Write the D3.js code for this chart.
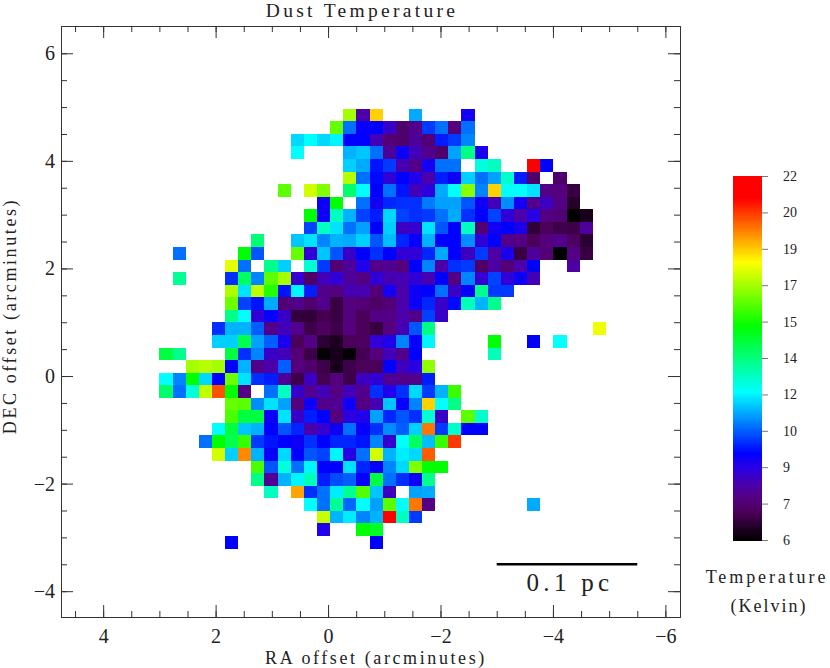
<!DOCTYPE html>
<html>
<head>
<meta charset="utf-8">
<script src="https://cdnjs.cloudflare.com/ajax/libs/d3/7.8.5/d3.min.js"></script>
<style>
  body { margin: 0; background: #fff; }
  text { font-family: "Liberation Serif", serif; fill: #222; }
</style>
</head>
<body>
<svg id="chart" width="830" height="668"></svg>
<script>
const _ = null;

// map layout: first RA column of each row, top row first
const firstCol = [14, 13, 10, 10, 14, 14, 9, 12, 11, 11, 7, 1, 5, 1, 5, 5, 5, 4,
                  4, 0, 2, 0, 0, 5, 5, 4, 3, 4, 7, 7, 8, 11, 12, 12, 5];

// dust temperature in Kelvin, one row at a time
const tempRows = [
  [17.2, 8.4, 18.7, _, _, 11.6, _, _, _, 9.5],
  [16.5, 11, 9.7, 9.8, 8.8, 7.5, 8, 10.4, 11, 7.8, 11],
  [12.1, 12.5, 12.1, 12.4, 9.8, 9.8, 8.6, 7.7, 7.5, 8.2, 7.7, 10.1, 10.4, 11.2],
  [12.5, _, _, _, 11.7, 11.9, 11, 8.2, 9.6, 8.6, 8, 7.5, 11.5, 13.9, 9.4],
  [12, 11.6, 10, 10.4, 8.5, 8, 9.5, 11, 11, _, 12.9, 13.2, _, _, 21, 9.8],
  [17.4, 11, 9.9, 9, 9.8, 9.3, 8.4, 10.1, 9.6, 12, 11, 11.5, 13.1, 10.1, 7.5, _, 7.5],
  [16.4, _, 17.7, 16.8, _, 14.2, 12.5, 9.8, 11, 10, 8.6, 9.1, 11.6, 12.5, 16.9, 11.2, 18.7, 12.5, 12.5, 12.2, 7.9, 7.8, 6.9],
  [9.6, 15.4, _, 11, 9.5, 10.2, 10.3, 10.3, 11.1, 11.5, 11.5, 10.7, 9.6, 8.6, 11.3, 9.5, 8, 8.7, 7.9, 6.6],
  [15.4, 9.6, 13.2, 11.7, 10.5, 10.1, 12.1, 10.5, 10.3, 10.4, 11, 11.6, 10.3, 9.8, 10.5, 9, 8.4, 9.2, 7.9, 7.7, 6, 6.4],
  [10.5, 13.2, 12.2, 11, 11.5, 9.8, 12, 8.7, 8.9, 12.2, 10.7, 9.8, 13.2, 7.7, 9.5, 9.8, 9.4, 6.8, 7.2, 7, 7, 8.2],
  [14.1, _, _, 11.9, 12.2, 11.2, 11.7, 11.6, 12, 10.7, 11.8, 10.2, 9.7, 11.7, 9.8, 9.8, 11.3, 9, 9.8, 8, 7.9, 7.2, 7.8, 8, 7.3, 6.7],
  [11, _, _, _, _, 15.4, 10.7, _, _, 16.5, 9, 11.9, 10.7, 8.8, 9.8, 10.3, 9.8, 9, 9, 10.2, 11.6, 9.8, 8.7, 10.4, 8.3, 9.4, 6.9, 8.2, 7.7, 6, 7.9, 6.9],
  [17.9, 11, _, 13.8, 12, _, 13, 10.4, 7.7, 8.2, 9.3, 8, 8.1, 7.8, 9.8, 11.2, 8.4, 10.3, 10.4, 7.4, 8.3, 7.7, 8.4, 9.8, _, _, 8.3],
  [13.7, _, _, _, 10.3, 14.3, 11.2, 16.4, 17.2, 8.9, 7.4, 8.6, 9, 8.2, 7.9, 9, 8.5, 8.5, 9, 8.5, 9.8, 7.9, 11.2, 8.9, 10.5, 9, 9.6, 8.6],
  [17.3, 12.2, 17.5, 15.8, 10, 12.4, 10.1, 8, 7.8, 8.5, 8.5, 7.7, 9.5, 8.4, 9.6, 9.8, 11, 8.8, 9.7, 13.8, 10.4, 10.4],
  [16.6, 10.5, 10, 11.6, 7.7, 8, 7.5, 8, 6.9, 7.8, 7.7, 7.4, 7.7, 8.4, 9.6, 10.2, 8.8, 9.9, 13.3, 11.7, 13.8],
  [13.9, 12.5, 9, 9.7, 8.8, 6.8, 6.8, 7.1, 6.9, 7.8, 7.2, 7.9, 7.9, 8.4, 8, 10.5, 8.8],
  [10.3, 11.7, 11.7, 10.8, 8, 8.6, 8, 7, 7.3, 7, 7.8, 7.2, 6.9, 7.8, 8.5, 10.7, 13.9, _, _, _, _, _, _, _, _, _, _, _, _, 18],
  [12, 12, 14.5, 11.5, 10.8, 9.4, 7.2, 7.9, 6.7, 6.5, 7.2, 7.3, 9, 9.3, 11.2, 9.7, 12.4, _, _, _, _, 15.4, _, _, 9.8, _, 12.5],
  [14.7, 13.8, _, _, _, 14.7, 10.3, 11.2, 8.8, 8.6, 7.7, 7, 6.1, 6.4, 6.1, 7.1, 7.8, 8.6, 8, 9.8, _, _, _, _, _, 13.3],
  [17.2, 17.4, 17.2, 9.8, 11.7, 8, 8.4, 10.8, 7.8, 7.5, 7, 6.4, 7, 7.2, 7.2, 9.8, 8.7, 9.2, 17],
  [12.5, 11.2, 15.4, 12.1, 9.8, 16.6, 12.2, 10.3, 10.1, 8.2, 7, 8.7, 7.1, 7.8, 7, 8.7, 9, 8.1, 8, 8, 10.1],
  [14.2, 11, 12.9, 17.5, 20.1, 15.4, 7.9, _, 11, 13.2, 8.8, 8.1, 8.6, 7.9, 8.6, 8, 10.3, 9.3, 10.3, 12.1, 10.4, 11.7, 16],
  [16.5, 16.4, 11.3, 12.2, 11.5, 7.8, 9.6, 8, 8.1, 9.6, 7.9, 8.5, 11.9, 9.7, 11.2, 18.7, 12.5, 13.9],
  [16.2, 14.7, 14.7, 9.6, 12.2, 8.8, 10.1, 9.8, 7.8, 9.1, 9.3, 11.5, 10.2, 10.7, 10.3, 13, 8.8, _, 16.4, 13.1],
  [12.5, 14.7, 11.9, 11.7, 9.8, 10.7, 10.2, 8.4, 8.9, 9.6, 11, 9.7, 10.3, 11.3, 10.8, 12, 19.7, 10.4, 13.1, 9.8, 9.8],
  [11, 15.4, 14.5, 16, 10.4, 10, 9.8, 9.6, 10.3, 9.8, 10.2, 10.2, 10, 11.2, 8.9, 12.5, 14.3, 11.8, 16, 20.4],
  [17.7, 12, 19.5, 11.7, 9.7, 12.1, 9.8, 10.7, 10.5, 12.4, 9.2, 11, 17.7, 11.7, 12.3, 12.1, 20],
  [16.2, 10.7, 12.9, 11, 12.4, 9.8, 9.8, 12.2, 10.2, 9.8, 11.2, 12.1, 16.8, 15.4, 15.4],
  [13.9, 8.1, 11.7, 12.4, 13.3, 10.1, 10.6, 10.8, 9.7, 14.7, 11, 10.3, 9.6, 13.8],
  [13.2, _, 19.2, 10.3, 11, 12.3, 13.7, 16.3, 11.9, 8.7, _, 11.5, 11.6],
  [12.5, 11, 13.7, 10.9, 12.5, 11.5, 16.4, 12.5, 19.7, 7.9, _, _, _, _, _, _, _, 11.6],
  [17.6, 11.7, 12.3, 11.2, 11.7, 21, 13.2, 10.4],
  [9.3, _, _, 15.4, 15],
  [9.8, _, _, _, _, _, _, _, _, _, _, 9.8]
];

// grid of the map, in arcminutes
const raStart = 3.0;
const decStart = 4.968;
const cellSize = 0.2336;

const xMajor = [4, 2, 0, -2, -4, -6];
const yMajor = [6, 4, 2, 0, -2, -4];
const xMinor = d3.range(4.5, -6.01, -0.5);
const yMinor = d3.range(6, -4.01, -0.5);

// colour bar
const tempStops = [6, 6.5, 7.2, 7.8, 8.4, 9.2, 9.8, 12.5, 15.4, 18.2, 21, 22];
const stopColors = ["#000000", "#1e0023", "#4b005a", "#55007d", "#4b00aa", "#2800e6", "#0000ff",
                    "#00ffff", "#00ff00", "#ffff00", "#ff0000", "#ff0000"];
const barTicks = [6, 7.6, 9.2, 10.8, 12.4, 14, 15.6, 17.2, 18.8, 20.4, 22];
const barLabels = ["6", "7", "9", "10", "12", "14", "15", "17", "19", "20", "22"];

let svg = d3.select("#chart");

let x = d3.scaleLinear().domain([4.75, -6.26]).range([61, 680]);
let y = d3.scaleLinear().domain([6.507, -4.48]).range([26, 617]);
let color = d3.scaleLinear().domain(tempStops).range(stopColors).clamp(true);

// flatten the rows into cells
let cells = [];
tempRows.forEach((row, r) => {
  row.forEach((t, i) => {
    if (t !== null) cells.push({col: firstCol[r] + i, row: r, temp: t});
  });
});

svg.append("g")
  .attr("shape-rendering", "crispEdges")
  .selectAll("rect")
  .data(cells).enter()
  .append("rect")
  .attr("x", d => x(raStart - d.col * cellSize))
  .attr("y", d => y(decStart - d.row * cellSize))
  .attr("width", x(0) - x(cellSize))
  .attr("height", y(0) - y(cellSize))
  .attr("fill", d => color(d.temp));

function style_axis(g) {
  g.selectAll("path, line").attr("stroke", "#333").attr("stroke-width", 1);
  g.selectAll("text")
    .attr("fill", "#222")
    .style("font-family", '"Liberation Serif", serif')
    .style("font-size", "20px");
}

function add_axis(axis, tx, ty, showLabels) {
  let g = svg.append("g")
    .attr("transform", `translate(${tx},${ty})`)
    .call(axis.tickSizeOuter(0))
    .call(style_axis);
  if (!showLabels) g.selectAll("text").remove();
  return g;
}

// major and minor ticks point inwards on all four sides
add_axis(d3.axisBottom(x).tickValues(xMajor).tickSize(-12).tickPadding(12), 0, 617, true);
add_axis(d3.axisTop(x).tickValues(xMajor).tickSize(-12), 0, 26, false);
add_axis(d3.axisLeft(y).tickValues(yMajor).tickSize(-12).tickPadding(6), 61, 0, true);
add_axis(d3.axisRight(y).tickValues(yMajor).tickSize(-12), 680, 0, false);
add_axis(d3.axisBottom(x).tickValues(xMinor).tickSize(-6), 0, 617, false);
add_axis(d3.axisTop(x).tickValues(xMinor).tickSize(-6), 0, 26, false);
add_axis(d3.axisLeft(y).tickValues(yMinor).tickSize(-6), 61, 0, false);
add_axis(d3.axisRight(y).tickValues(yMinor).tickSize(-6), 680, 0, false);

svg.append("text")
  .attr("x", 362).attr("y", 17.4)
  .attr("text-anchor", "middle")
  .style("font-size", "19.5px")
  .style("letter-spacing", "3.3px")
  .text("Dust Temperature");

svg.append("text")
  .attr("x", 376).attr("y", 664)
  .attr("text-anchor", "middle")
  .style("font-size", "18px")
  .style("letter-spacing", "2.6px")
  .text("RA offset (arcminutes)");

svg.append("text")
  .attr("transform", "translate(16,316) rotate(-90)")
  .attr("text-anchor", "middle")
  .style("font-size", "18px")
  .style("letter-spacing", "2.6px")
  .text("DEC offset (arcminutes)");

// scale bar
svg.append("line")
  .attr("x1", x(-3)).attr("x2", x(-5.5))
  .attr("y1", y(-3.5)).attr("y2", y(-3.5))
  .attr("stroke", "#000")
  .attr("stroke-width", 2.5);

svg.append("text")
  .attr("x", 570).attr("y", 591)
  .attr("text-anchor", "middle")
  .style("font-size", "25px")
  .style("letter-spacing", "4.3px")
  .text("0.1 pc");

// colour bar
let barY = d3.scaleLinear().domain([6, 22]).range([540, 176]);
let barSteps = d3.range(6, 22, 0.05);

svg.append("g")
  .attr("shape-rendering", "crispEdges")
  .selectAll("rect")
  .data(barSteps).enter()
  .append("rect")
  .attr("x", 733)
  .attr("y", d => barY(d + 0.05))
  .attr("width", 29)
  .attr("height", barY(6) - barY(6.05) + 0.5)
  .attr("fill", d => color(d));

let barAxis = svg.append("g")
  .attr("transform", "translate(762,0)")
  .call(d3.axisRight(barY)
    .tickValues(barTicks)
    .tickSize(6)
    .tickSizeOuter(0)
    .tickPadding(15)
    .tickFormat((d, i) => barLabels[i]));
barAxis.select(".domain").remove();
barAxis.selectAll("line").attr("stroke", "#777");
barAxis.selectAll("text")
  .attr("fill", "#222")
  .style("font-family", '"Liberation Serif", serif')
  .style("font-size", "14px");

svg.append("text")
  .attr("x", 767).attr("y", 583)
  .attr("text-anchor", "middle")
  .style("font-size", "18px")
  .style("letter-spacing", "2.9px")
  .text("Temperature");

svg.append("text")
  .attr("x", 769).attr("y", 612)
  .attr("text-anchor", "middle")
  .style("font-size", "18px")
  .style("letter-spacing", "2px")
  .text("(Kelvin)");
</script>
</body>
</html>
